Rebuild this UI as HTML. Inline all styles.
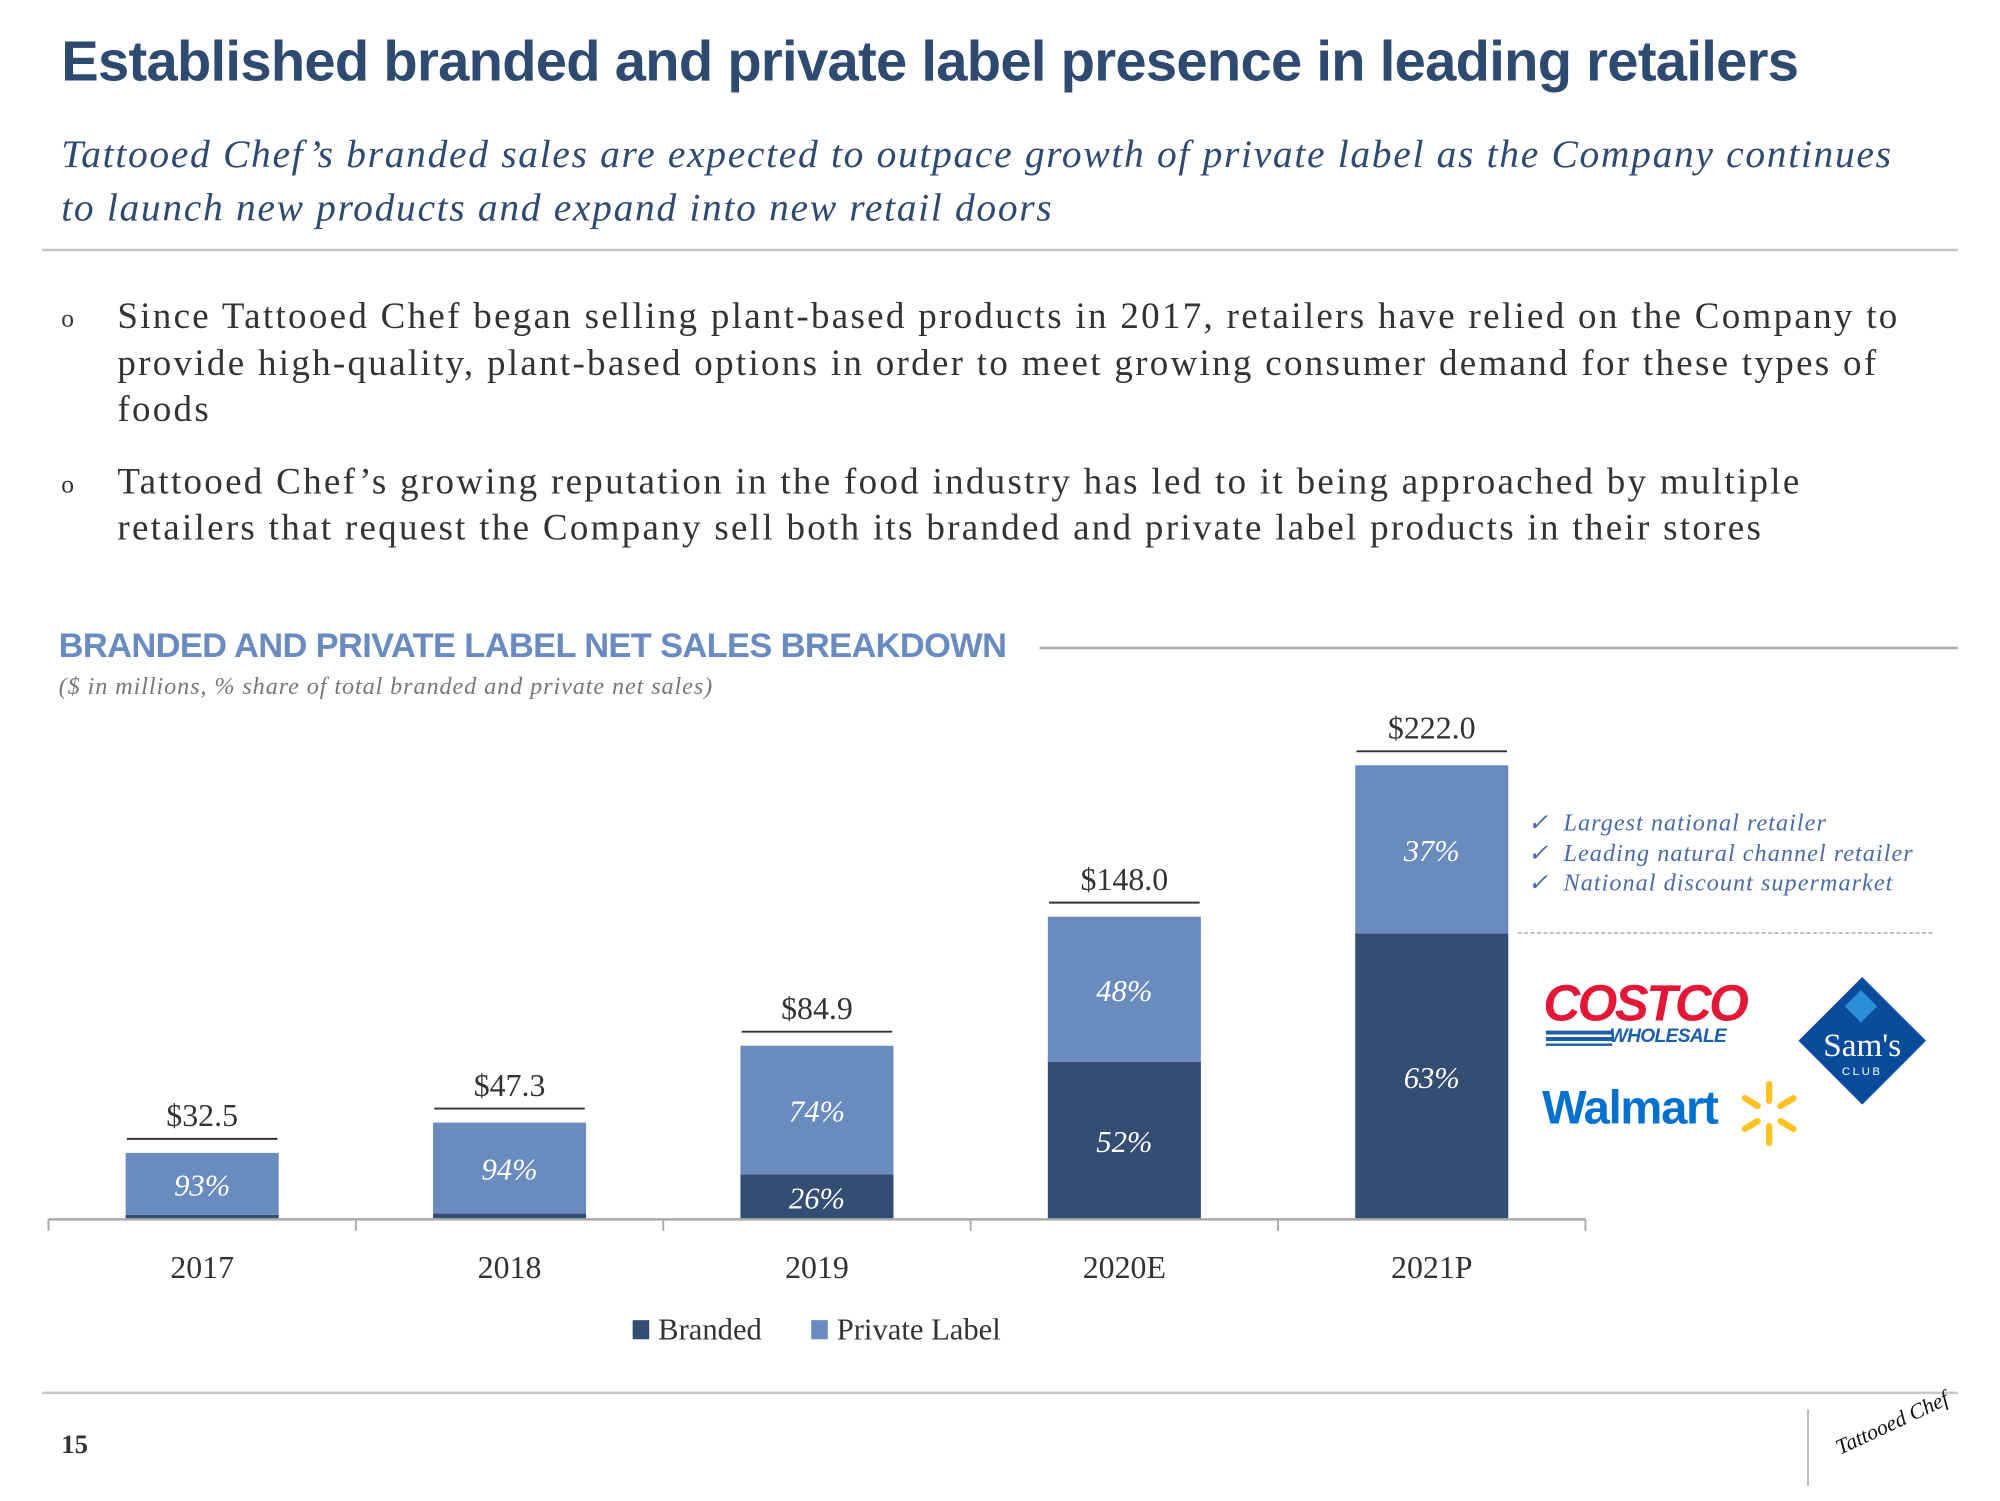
<!DOCTYPE html>
<html><head><meta charset="utf-8"><style>
body{margin:0;width:2000px;height:1500px;overflow:hidden;background:#fff}
#s{position:absolute;left:0;top:0;width:1570px;height:1177px;transform:scale(1.2755);transform-origin:0 0;font-family:"Liberation Serif",serif}
.a{position:absolute;white-space:nowrap}
.bl{position:relative;padding-left:44px}
.bl span.o{position:absolute;left:0;font-size:20px;top:2px;letter-spacing:0}
</style></head><body>
<div id="s">
<div class="a" style="left:48px;top:24px;font:bold 44px 'Liberation Sans',sans-serif;color:#2e4a70;letter-spacing:-0.55px">Established branded and private label presence in leading retailers</div>
<div class="a" style="left:48px;top:100px;font:italic 31px 'Liberation Serif',serif;color:#2e4a70;line-height:42px;letter-spacing:1.3px">Tattooed Chef’s branded sales are expected to outpace growth of private label as the Company continues<br>to launch new products and expand into new retail doors</div>
<div class="a" style="left:33px;top:195px;width:1502px;height:2px;background:#c8c8c8"></div>
<div class="a" style="left:48px;top:230px;font:29px 'Liberation Serif',serif;color:#333;line-height:36.5px;letter-spacing:1.8px">
<div class="bl"><span class="o">o</span>Since Tattooed Chef began selling plant-based products in 2017, retailers have relied on the Company to<br>provide high-quality, plant-based options in order to meet growing consumer demand for these types of<br>foods</div>
<div class="bl" style="margin-top:20px"><span class="o">o</span>Tattooed Chef’s growing reputation in the food industry has led to it being approached by multiple<br>retailers that request the Company sell both its branded and private label products in their stores</div>
</div>
<div class="a" style="left:46px;top:491px;font:bold 27px 'Liberation Sans',sans-serif;color:#6a8bc0;letter-spacing:-0.5px">BRANDED AND PRIVATE LABEL NET SALES BREAKDOWN</div>
<div class="a" style="left:815px;top:507px;width:720px;height:2px;background:#aaa"></div>
<div class="a" style="left:46px;top:528px;font:italic 19px 'Liberation Serif',serif;color:#777;letter-spacing:0.7px">($ in millions, % share of total branded and private net sales)</div>
<svg class="a" style="left:0;top:0" width="1563" height="1172" id="chart"></svg>
<div class="a" style="left:1198px;top:634px;font:italic 19px 'Liberation Serif',serif;color:#4a6aa6;line-height:23.5px;letter-spacing:0.8px">✓&nbsp; Largest national retailer<br>✓&nbsp; Leading natural channel retailer<br>✓&nbsp; National discount supermarket</div>
<div class="a" style="left:1190px;top:731px;width:325px;border-top:1.5px dashed #999"></div>
<div class="a" style="left:1210px;top:766px;font:italic 900 40px 'Liberation Sans',sans-serif;color:#e31837;letter-spacing:-2px;line-height:42px">COSTCO</div>
<div class="a" style="left:1212px;top:808px;width:52px;height:12px;background:repeating-linear-gradient(#1b5eab 0 3px,#fff 3px 5px)"></div>
<div class="a" style="left:1262px;top:804px;font:italic 900 15px 'Liberation Sans',sans-serif;color:#1b5eab;letter-spacing:-0.5px">WHOLESALE</div>
<div class="a" style="left:1209px;top:848px;font:bold 37px 'Liberation Sans',sans-serif;color:#0071ce;letter-spacing:-1px">Walmart</div>
<svg class="a" style="left:1362px;top:846px" width="50" height="54"><g stroke="#ffc220" stroke-width="5" stroke-linecap="round"><line x1="25" y1="4" x2="25" y2="17"/><line x1="25" y1="37" x2="25" y2="50"/><line x1="6" y1="15" x2="16" y2="21"/><line x1="44" y1="15" x2="34" y2="21"/><line x1="6" y1="39" x2="16" y2="33"/><line x1="44" y1="39" x2="34" y2="33"/></g></svg>
<svg class="a" style="left:1408px;top:764px" width="104" height="104"><polygon points="52,2 102,52 52,102 2,52" fill="#0a4c9c"/><rect x="42" y="16" width="18" height="18" transform="rotate(45 51 25)" fill="#2b8fd6"/><text x="52" y="64" text-anchor="middle" font-family="Liberation Serif" font-size="26" fill="#fff">Sam's</text><text x="52" y="79" text-anchor="middle" font-family="Liberation Sans" font-size="9" fill="#fff" letter-spacing="2">CLUB</text></svg>
<div class="a" style="left:33px;top:1091px;width:1502px;height:2px;background:#c8c8c8"></div>
<div class="a" style="left:48px;top:1120px;font:bold 21px 'Liberation Serif',serif;color:#333">15</div>
<div class="a" style="left:1417px;top:1105px;width:1px;height:60px;background:#999"></div>
<div class="a" style="left:1436px;top:1106px;font:italic 17px 'Liberation Serif',serif;color:#111;transform:rotate(-25deg)">Tattooed Chef</div>
</div>
<script>
const categories=["2017","2018","2019","2020E","2021P"];
const totals=[32.5,47.3,84.9,148.0,222.0];
const brandedPct=[7,6,26,52,63];
const privatePct=[93,94,74,48,37];
const totalLabels=["$32.5","$47.3","$84.9","$148.0","$222.0"];
const NS="http://www.w3.org/2000/svg";
const svg=document.getElementById('chart');
const base=956,left=38,step=241,bw=120,scale=356/222;
const xc=i=>left+step*(i+0.5);
const y=v=>base-v*scale;
function mk(t,a){const e=document.createElementNS(NS,t);for(const k in a)e.setAttribute(k,a[k]);svg.appendChild(e);return e;}
categories.forEach((c,i)=>{
  const bv=totals[i]*brandedPct[i]/100, tv=totals[i];
  const b=mk('rect',{x:xc(i)-bw/2,y:y(bv),width:bw,height:base-y(bv),fill:'#344d73'});
  
  
  const p=mk('rect',{x:xc(i)-bw/2,y:y(tv),width:bw,height:y(bv)-y(tv),fill:'#6a8bbd'});
  
  
  const pl=mk('text',{x:xc(i),y:(y(tv)+y(bv))/2+9,'text-anchor':'middle','font-family':'Liberation Serif','font-style':'italic','font-size':24,fill:'#fff'});
  pl.textContent=privatePct[i]+'%';
  
  
  if(brandedPct[i]>=20){
    const bl=mk('text',{x:xc(i),y:(base+y(bv))/2+9,'text-anchor':'middle','font-family':'Liberation Serif','font-style':'italic','font-size':24,fill:'#fff'});
    bl.textContent=brandedPct[i]+'%';
    
    
  }
  const ln=mk('line',{x1:xc(i)-59,x2:xc(i)+59,y1:y(tv)-11,y2:y(tv)-11,stroke:'#333','stroke-width':1.5});
  
  
  const tl=mk('text',{x:xc(i),y:y(tv)-21,'text-anchor':'middle','font-family':'Liberation Serif','font-size':25,fill:'#333'});
  tl.textContent=totalLabels[i];
  
  
  const xl=mk('text',{x:xc(i),y:1002,'text-anchor':'middle','font-family':'Liberation Serif','font-size':25,fill:'#333'});
  xl.textContent=c;
  
  
});
const ax=mk('line',{x1:left,x2:left+step*5,y1:base,y2:base,stroke:'#aaa','stroke-width':2});


for(let i=0;i<=5;i++){const t=mk('line',{x1:left+step*i,x2:left+step*i,y1:base,y2:base+9,stroke:'#aaa','stroke-width':1.5});

}
const lg=[['Branded','#344d73',496],['Private Label','#6a8bbd',636]];
lg.forEach(l=>{
  const r=mk('rect',{x:l[2],y:1035,width:13,height:15,fill:l[1]});
  
  
  const t=mk('text',{x:l[2]+20,y:1050,'font-family':'Liberation Serif','font-size':24,fill:'#333'});
  t.textContent=l[0];
  
  
});
</script>
</body></html>
